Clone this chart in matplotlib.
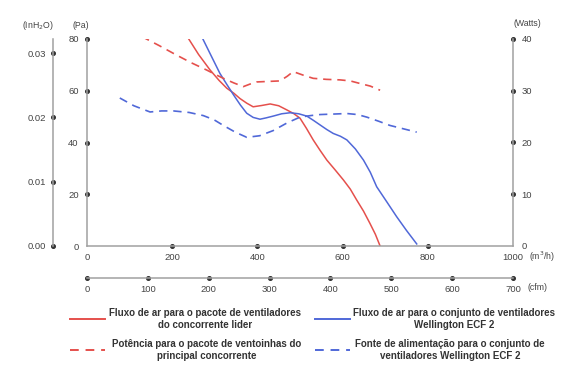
import numpy as np
import matplotlib
matplotlib.use("Agg")
import matplotlib.pyplot as plt
from matplotlib.lines import Line2D

# airflow curves (x in m3/h, y in Pa)
red_flow_x = [235, 262, 289, 310, 328, 345, 359, 375, 390, 410, 430, 450, 469, 485,
              500, 515, 531, 547, 563, 582, 602, 618, 633, 649, 664, 677, 688]
red_flow_y = [81, 74, 68, 64, 61, 59, 57, 55.2, 53.8, 54.3, 54.9, 54.2, 52.6, 51.2,
              49.4, 45.5, 41, 37, 33.2, 29.5, 25.5, 22, 17.8, 13.5, 8.8, 4.5, 0]
blue_flow_x = [269, 290, 312, 328, 344, 360, 375, 390, 406, 420, 437, 457, 477, 497,
               516, 532, 547, 563, 578, 595, 610, 630, 649, 665, 680, 704, 727, 750, 774]
blue_flow_y = [81, 74, 66.7, 62.5, 58.4, 54.5, 51.3, 49.7, 49, 49.5, 50.2, 51.1, 51.5, 51.1,
               50.2, 48.5, 46.8, 45, 43.5, 42.4, 41, 37.5, 33.2, 28.5, 22.9, 17, 11.3, 6, 0.8]

# power curves (x in m3/h, y in Watts)
red_pow_x = [128, 170, 210, 245, 281, 300, 320, 345, 367, 383, 398, 425, 453, 470,
             484, 508, 531, 562, 594, 618, 641, 665, 688]
red_pow_y = [40.5, 38.7, 36.9, 35.4, 34, 33.2, 32.4, 31.5, 30.8, 31.3, 31.7, 31.8, 31.9, 32.8,
             33.7, 33, 32.4, 32.2, 32.1, 31.9, 31.4, 30.9, 30.1]
blue_pow_x = [77, 110, 148, 175, 203, 240, 273, 298, 320, 348, 375, 405, 437, 470,
              500, 525, 547, 580, 610, 635, 657, 685, 711, 745, 774]
blue_pow_y = [28.6, 27.1, 25.9, 26.1, 26.1, 25.8, 25.2, 24.4, 23.3, 22, 21, 21.3, 22.3, 23.8,
              24.9, 25.2, 25.4, 25.5, 25.6, 25.4, 24.9, 24.1, 23.3, 22.6, 22]

pa_ticks = [0, 20, 40, 60, 80]
inh2o_ticks = [0.00, 0.01, 0.02, 0.03]
inh2o_top = 0.0322
watt_ticks = [0, 10, 20, 30, 40]
m3h_ticks = [0, 200, 400, 600, 800, 1000]
cfm_ticks = [0, 100, 200, 300, 400, 500, 600, 700]

labels = [
    "Fluxo de ar para o pacote de ventiladores\ndo concorrente lider",
    "Fluxo de ar para o conjunto de ventiladores\nWellington ECF 2",
    "Potência para o pacote de ventoinhas do\nprincipal concorrente",
    "Fonte de alimentação para o conjunto de\nventiladores Wellington ECF 2",
]

RED = "#e5504c"
BLUE = "#5068d8"
SPINE = "#a0a0a0"
DOT = "#333333"
TXT = "#444444"
DASH = (0, (5, 3.5))

plt.rcParams["font.family"] = ["Liberation Sans", "DejaVu Sans"]
plt.rcParams["font.size"] = 6.5

fig = plt.figure(figsize=(5.8, 3.72), dpi=100)
L, B, W, H = 87 / 580, 1 - 246 / 372, 426 / 580, 207 / 372
ax = fig.add_axes([L, B, W, H])
ax_w = ax.twinx()
ax_in = ax.twinx()

ax.plot(red_flow_x, red_flow_y, color=RED, lw=1.1)
ax.plot(blue_flow_x, blue_flow_y, color=BLUE, lw=1.1)
ax_w.plot(red_pow_x, red_pow_y, color=RED, lw=1.2, ls=DASH)
ax_w.plot(blue_pow_x, blue_pow_y, color=BLUE, lw=1.2, ls=DASH)

ax.set_xlim(0, 1000)
ax.set_ylim(0, 80)
ax_w.set_ylim(0, 40)
ax_in.set_ylim(0, inh2o_top)

for a in (ax, ax_w, ax_in):
    for s in a.spines.values():
        s.set_visible(False)
    a.tick_params(length=0, colors=TXT, labelsize=6.8)
    a.patch.set_visible(False)

# visible spines
in_pos = -(87 - 53) / 426
ax.spines["left"].set_visible(True)
ax.spines["bottom"].set_visible(True)
ax_w.spines["right"].set_visible(True)
ax_in.spines["left"].set_visible(True)
ax_in.spines["left"].set_position(("axes", in_pos))
ax_in.yaxis.set_ticks_position("left")
for s in (ax.spines["left"], ax.spines["bottom"], ax_w.spines["right"], ax_in.spines["left"]):
    s.set_color(SPINE)
    s.set_linewidth(1.1)

ax.set_xticks(m3h_ticks)
ax.set_yticks(pa_ticks)
ax_w.set_yticks(watt_ticks)
ax_in.set_yticks(inh2o_ticks)
ax_in.set_yticklabels([f"{v:.2f}" for v in inh2o_ticks])
ax.tick_params(axis="x", pad=5)
ax.tick_params(axis="y", pad=6)
ax_w.tick_params(axis="y", pad=6)
ax_in.tick_params(axis="y", pad=5)

# dot tick marks (none at the plot corners)
ms = 2.6
ax.plot(np.zeros(len(pa_ticks) - 1), pa_ticks[1:], "o", ms=ms, color=DOT,
        clip_on=False, transform=ax.get_yaxis_transform())
ax.plot(m3h_ticks[1:-1], np.zeros(len(m3h_ticks) - 2), "o", ms=ms, color=DOT, clip_on=False)
ax_w.plot(np.ones(len(watt_ticks) - 1), watt_ticks[1:], "o", ms=ms, color=DOT,
          clip_on=False, transform=ax_w.get_yaxis_transform())
ax_in.plot(np.full(len(inh2o_ticks), in_pos), inh2o_ticks, "o", ms=ms, color=DOT,
           clip_on=False, transform=ax_in.get_yaxis_transform())
ax_in.set_ylim(0, inh2o_top)

# secondary cfm axis
ax_c = fig.add_axes([L, 1 - 278 / 372, W, 0.0001])
ax_c.set_xlim(0, 700)
ax_c.set_ylim(0, 1)
for k, s in ax_c.spines.items():
    s.set_visible(k == "bottom")
ax_c.spines["bottom"].set_color(SPINE)
ax_c.spines["bottom"].set_linewidth(1.1)
ax_c.set_yticks([])
ax_c.set_xticks(cfm_ticks)
ax_c.tick_params(length=0, colors=TXT, labelsize=6.8, pad=5)
ax_c.plot(cfm_ticks, np.zeros(len(cfm_ticks)), "o", ms=ms, color=DOT, clip_on=False)
ax_c.patch.set_visible(False)

# unit labels
ufont = dict(ha="center", va="center", color=TXT, fontsize=6.3)
fig.text(38 / 580, 1 - 25 / 372, "(InH$_2$O)", **ufont)
fig.text(81 / 580, 1 - 25 / 372, "(Pa)", **ufont)
fig.text(527 / 580, 1 - 24 / 372, "(Watts)", **ufont)
fig.text(542 / 580, 1 - 257 / 372, "(m$^3$/h)", **ufont)
fig.text(537 / 580, 1 - 288 / 372, "(cfm)", **ufont)

# legend drawn by hand for two-line centred labels
lfont = dict(family=["Liberation Sans Narrow", "Liberation Sans"], weight="bold",
             fontsize=7, color="#333333", ha="center", va="center", linespacing=1.35)
entries = [
    (70, 105, 319, 205, RED, "-"),
    (315, 350, 319, 454, BLUE, "-"),
    (70, 105, 350, 207, RED, (0, (4.5, 3.5))),
    (315, 350, 350, 450, BLUE, (0, (4.5, 3.5))),
]
for (x0, x1, y, xc, col, ls), lab in zip(entries, labels):
    fig.add_artist(Line2D([x0 / 580, x1 / 580], [1 - y / 372, 1 - y / 372],
                          transform=fig.transFigure, color=col, lw=1.4, ls=ls))
    fig.text(xc / 580, 1 - y / 372, lab, **lfont)

fig.savefig("out.png", dpi=100)
